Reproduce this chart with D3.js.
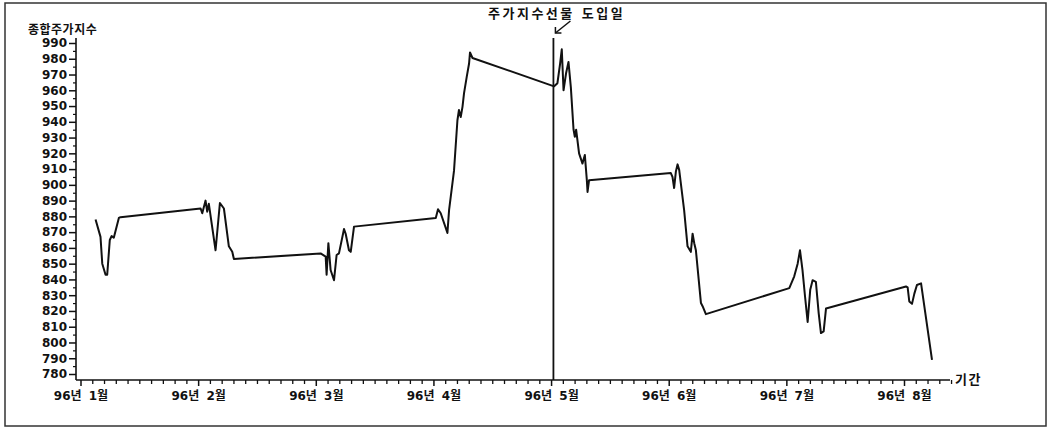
<!DOCTYPE html>
<html>
<head>
<meta charset="utf-8">
<script src="https://cdn.jsdelivr.net/npm/d3@7/dist/d3.min.js"></script>
<style>
  html, body { margin: 0; padding: 0; background: #fff; }
  svg { display: block; }
  text { font-family: "DejaVu Sans", "Noto Sans CJK KR", sans-serif; font-weight: bold; fill: #111; }
</style>
</head>
<body>
<svg id="chart" width="1049" height="429"></svg>
<script>
// ---- data (x = month position, 1 = 96년 1월 tick) ----
const monthTicks = [1, 2, 3, 4, 5, 6, 7, 8];
const monthLabels = ["96년 1월", "96년 2월", "96년 3월", "96년 4월", "96년 5월", "96년 6월", "96년 7월", "96년 8월"];
const yTickValues = [780, 790, 800, 810, 820, 830, 840, 850, 860, 870, 880, 890, 900, 910, 920, 930, 940, 950, 960, 970, 980, 990];
const futuresStart = 5.02;
const yTitle = "종합주가지수";
const xTitle = "기간";
const note = "주가지수선물 도입일";

const periods = [1.128, 1.170, 1.185, 1.213, 1.227, 1.249, 1.264, 1.283, 1.326, 1.340,
  2.021, 2.035, 2.063, 2.077, 2.091, 2.148, 2.185, 2.219, 2.261, 2.290, 2.304,
  3.041, 3.084, 3.092, 3.107, 3.126, 3.155, 3.177, 3.197, 3.240, 3.254, 3.282, 3.297, 3.325,
  4.020, 4.039, 4.062, 4.119, 4.133, 4.175, 4.204, 4.217, 4.232, 4.247, 4.260, 4.283, 4.303, 4.311, 4.332,
  5.026, 5.054, 5.077, 5.091, 5.106, 5.128, 5.148, 5.168, 5.191, 5.202, 5.213, 5.238, 5.267, 5.287, 5.304, 5.310, 5.323,
  6.018, 6.032, 6.046, 6.061, 6.075, 6.089, 6.131, 6.160, 6.188, 6.203, 6.217, 6.231, 6.274, 6.288, 6.316,
  7.025, 7.067, 7.096, 7.116, 7.137, 7.159, 7.181, 7.203, 7.223, 7.251, 7.275, 7.294, 7.317, 7.337,
  8.017, 8.031, 8.045, 8.068, 8.088, 8.110, 8.145, 8.238];
const kospi = [878, 867, 850, 843, 843, 865, 867.5, 866.5, 879, 879.5,
  885, 882, 890, 883, 888, 858.5, 888.5, 885, 861, 857.5, 853,
  856.5, 854.5, 843, 863, 846, 839.5, 855.5, 856.5, 872, 869, 858.5, 857.5, 873.5,
  879, 884.5, 882, 869.5, 884, 909, 941, 947.5, 943, 949.5, 958, 968.5, 977, 984, 980.5,
  962.5, 964.5, 977, 986, 960, 971, 978, 962, 935, 930.5, 935, 920, 913.5, 919, 903, 895.5, 903,
  907.5, 905, 898, 908.5, 913, 909.5, 884, 861, 857.5, 869, 863, 858.5, 825, 823, 818,
  834.5, 842, 850, 858.5, 846, 829, 813, 833.5, 839.5, 838.5, 818.5, 806, 807, 821.5,
  835.5, 835, 826, 824.5, 831, 836.5, 837.5, 789];

// ---- drawing ----
const svg = d3.select("#chart");
const x = d3.scaleLinear().domain([1, 8]).range([80.5, 904]);
const y = d3.scaleLinear().domain([780, 990]).range([374, 43]);
const axisX0 = 76, axisX1 = 950, axisYTop = 38, axisYBottom = 380;

// outer frame
svg.append("rect").attr("x", 5).attr("y", 3).attr("width", 1041).attr("height", 423)
  .attr("fill", "none").attr("stroke", "#333").attr("stroke-width", 1.5);

// y axis
const yAxis = svg.append("g").attr("transform", `translate(${axisX0},0)`)
  .call(d3.axisLeft(y).tickValues(yTickValues).tickSize(7).tickPadding(2).tickFormat(d3.format("d")));
yAxis.select(".domain").remove();
yAxis.selectAll("line").attr("stroke", "#111").attr("stroke-width", 1.5);
yAxis.selectAll("text").attr("font-size", 12).style("font-family", "DejaVu Sans, sans-serif").attr("font-weight", "bold");

const yMinor = svg.append("g").attr("transform", `translate(${axisX0},0)`)
  .call(d3.axisLeft(y).tickValues(yTickValues.slice(0, -1).map(v => v + 5)).tickSize(3).tickFormat(""));
yMinor.select(".domain").remove();
yMinor.selectAll("line").attr("stroke", "#111").attr("stroke-width", 1.2);

svg.append("line").attr("x1", axisX0).attr("x2", axisX0).attr("y1", axisYTop).attr("y2", axisYBottom)
  .attr("stroke", "#111").attr("stroke-width", 1.6);

// x axis
const xMinorVals = d3.range(10, 85).map(i => i / 10).filter(v => !monthTicks.includes(v));
const xMinor = svg.append("g").attr("transform", `translate(0,${axisYBottom})`)
  .call(d3.axisBottom(x).tickValues(xMinorVals).tickSize(4).tickFormat(""));
xMinor.select(".domain").remove();
xMinor.selectAll("line").attr("stroke", "#111").attr("stroke-width", 1.3);

const xAxis = svg.append("g").attr("transform", `translate(0,${axisYBottom})`)
  .call(d3.axisBottom(x).tickValues(monthTicks).tickSize(6).tickPadding(5)
    .tickFormat((d, i) => monthLabels[i]));
xAxis.select(".domain").remove();
xAxis.selectAll("line").attr("stroke", "#111").attr("stroke-width", 1.5);
xAxis.selectAll("text").attr("font-size", 12).attr("font-weight", "bold").attr("word-spacing", 3);

svg.append("line").attr("x1", axisX0).attr("x2", axisX1).attr("y1", axisYBottom).attr("y2", axisYBottom)
  .attr("stroke", "#111").attr("stroke-width", 1.6);

// titles
svg.append("text").attr("x", 28).attr("y", 34).attr("font-size", 12).attr("letter-spacing", 0.5).text(yTitle);
svg.append("text").attr("x", 955).attr("y", 384).attr("font-size", 13).attr("letter-spacing", 1.5).text(xTitle);

// futures introduction line
const fx = x(futuresStart);
svg.append("line").attr("x1", fx).attr("x2", fx).attr("y1", axisYTop).attr("y2", axisYBottom)
  .attr("stroke", "#111").attr("stroke-width", 1.8);

svg.append("text").attr("x", 488).attr("y", 18).attr("font-size", 13).attr("letter-spacing", 2.5).text(note);
// arrow
svg.append("line").attr("x1", fx + 17).attr("y1", 21).attr("x2", fx + 2).attr("y2", 33)
  .attr("stroke", "#111").attr("stroke-width", 1.5);
svg.append("path").attr("d", `M${fx + 2},27 L${fx + 2},33 L${fx + 8},33`)
  .attr("fill", "none").attr("stroke", "#111").attr("stroke-width", 1.5);

// series
const data = periods.map((p, i) => ({ p, v: kospi[i] }));
svg.append("path").datum(data)
  .attr("d", d3.line().x(d => x(d.p)).y(d => y(d.v)))
  .attr("fill", "none").attr("stroke", "#111").attr("stroke-width", 2).attr("stroke-linejoin", "round");
</script>
</body>
</html>
